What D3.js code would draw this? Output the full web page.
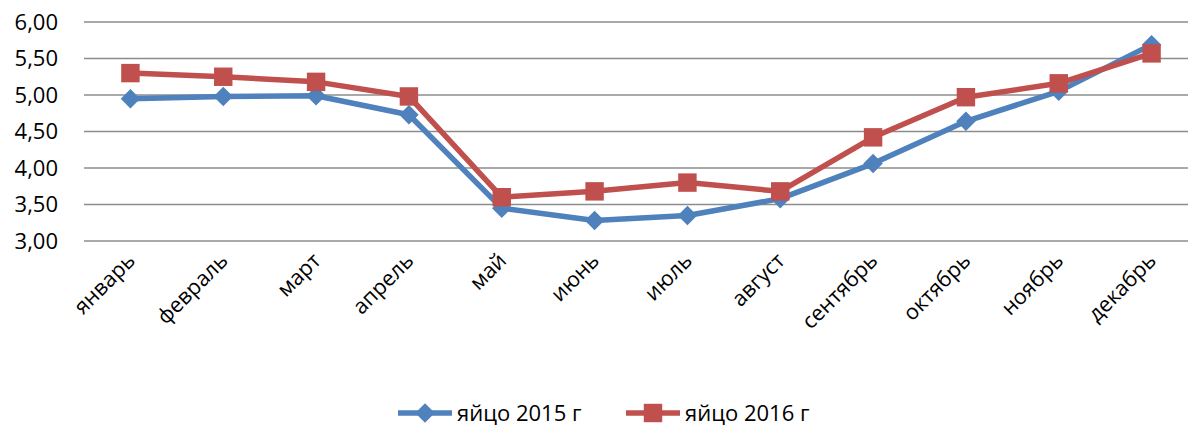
<!DOCTYPE html>
<html>
<head>
<meta charset="utf-8">
<script src="https://cdn.jsdelivr.net/npm/d3@7"></script>
<style>
  body { margin: 0; background: #fff; }
  text { font-family: "Open Sans", sans-serif; fill: #000; }
</style>
</head>
<body>
<div id="chart"></div>
<script>
const months = ['январь', 'февраль', 'март', 'апрель', 'май', 'июнь', 'июль', 'август', 'сентябрь', 'октябрь', 'ноябрь', 'декабрь'];
const eggs2015 = [4.95, 4.98, 4.99, 4.73, 3.45, 3.28, 3.35, 3.58, 4.06, 4.64, 5.05, 5.69];
const eggs2016 = [5.30, 5.25, 5.18, 4.98, 3.60, 3.68, 3.80, 3.68, 4.42, 4.97, 5.16, 5.57];
const yTicks = [3, 3.5, 4, 4.5, 5, 5.5, 6];

const series = [
    { name: 'яйцо 2015 г', values: eggs2015, color: '#4F81BD', marker: 'diamond' },
    { name: 'яйцо 2016 г', values: eggs2016, color: '#C0504D', marker: 'square' }
];

const width = 1188, height = 426;
const margin = { top: 22, right: -10, bottom: 185, left: 84 };

const svg = d3.select('#chart').append('svg')
    .attr('width', width)
    .attr('height', height);

const x = d3.scaleBand().domain(months).range([margin.left, width - margin.right]);
const y = d3.scaleLinear().domain([3, 6]).range([height - margin.bottom, margin.top]);

// gridlines
svg.append('g')
    .selectAll('line').data(yTicks).enter().append('line')
    .attr('x1', margin.left).attr('x2', width - margin.right)
    .attr('y1', d => y(d)).attr('y2', d => y(d))
    .attr('stroke', '#8c8c8c').attr('stroke-width', 1.5);

// y labels
svg.append('g')
    .selectAll('text').data(yTicks).enter().append('text')
    .attr('x', 58).attr('y', d => y(d))
    .attr('dy', '0.36em')
    .attr('text-anchor', 'end')
    .style('font-size', '22px')
    .text(d => d3.format('.2f')(d).replace('.', ','));

// x labels
svg.append('g')
    .selectAll('text').data(months).enter().append('text')
    .attr('transform', d => `translate(${x(d) + x.bandwidth() / 2 + 6},${y(3) + 21}) rotate(-45)`)
    .attr('text-anchor', 'end')
    .style('font-size', '21.5px')
    .text(d => d);

const line = d3.line()
    .x((d, i) => x(months[i]) + x.bandwidth() / 2)
    .y(d => y(d));

const symDiamond = d3.symbol().type(d3.symbolSquare).size(190);
const symSquare = d3.symbol().type(d3.symbolSquare).size(340);

function drawMarker(g, s) {
    if (s.marker === 'diamond') {
        g.append('path').attr('d', symDiamond()).attr('transform', 'rotate(45)').attr('fill', s.color);
    } else {
        g.append('path').attr('d', symSquare()).attr('fill', s.color);
    }
}

series.forEach(s => {
    svg.append('path')
        .datum(s.values)
        .attr('fill', 'none')
        .attr('stroke', s.color)
        .attr('stroke-width', 5.5)
        .attr('stroke-linejoin', 'round')
        .attr('d', line);

    svg.append('g').selectAll('g').data(s.values).enter().append('g')
        .attr('transform', (d, i) => `translate(${x(months[i]) + x.bandwidth() / 2},${y(d)})`)
        .each(function() { drawMarker(d3.select(this), s); });
});

// legend
const legendX = [398, 626];
const legendY = 413;
series.forEach((s, i) => {
    const g = svg.append('g').attr('transform', `translate(${legendX[i]},${legendY})`);
    g.append('line').attr('x1', 0).attr('x2', 54).attr('y1', 0).attr('y2', 0)
        .attr('stroke', s.color).attr('stroke-width', 5.5);
    const m = g.append('g').attr('transform', 'translate(27,0)');
    drawMarker(m, s);
    g.append('text').attr('x', 59).attr('y', 0).attr('dy', '0.36em')
        .style('font-size', '22px')
        .text(s.name);
});
</script>
</body>
</html>
